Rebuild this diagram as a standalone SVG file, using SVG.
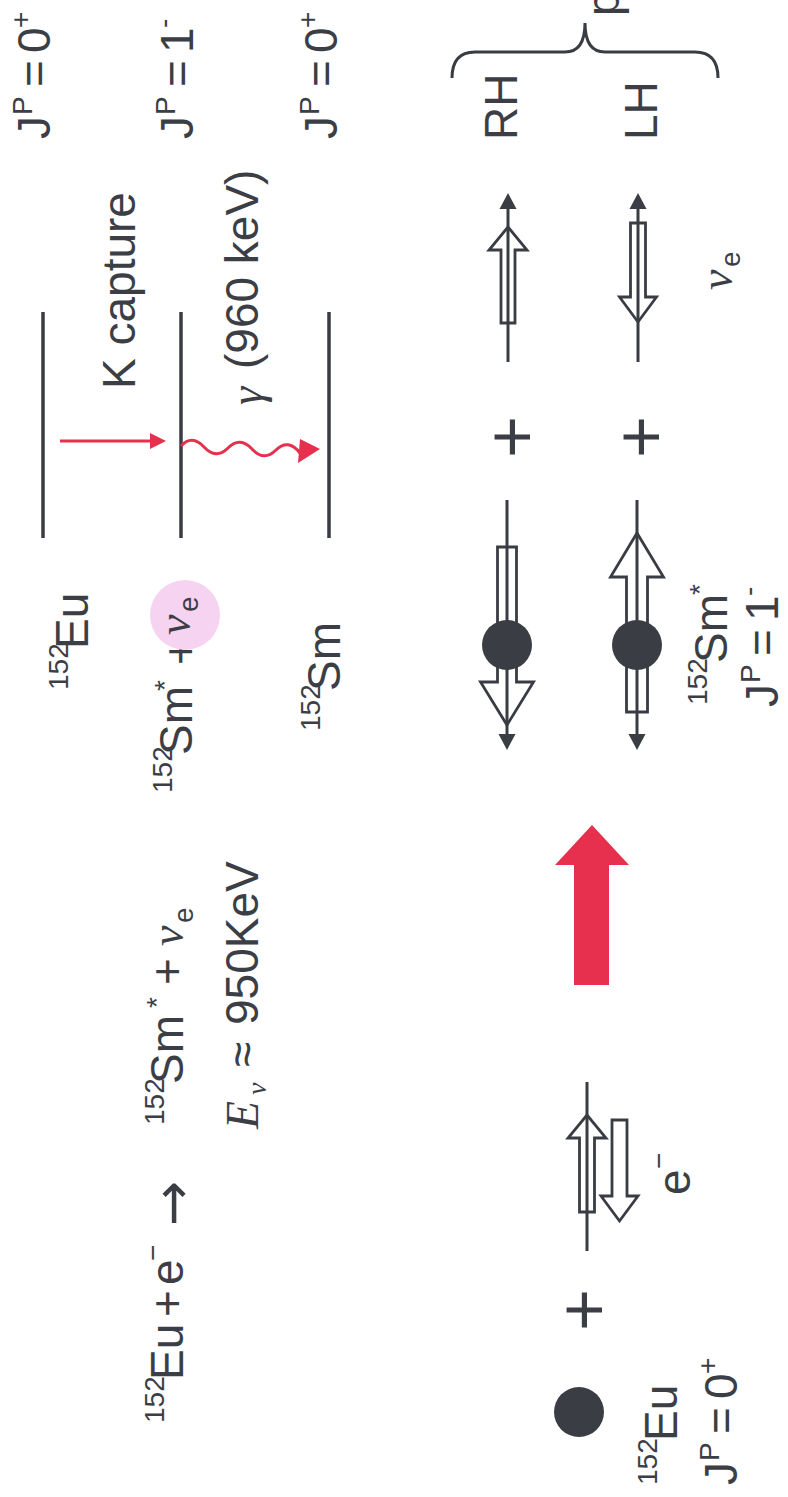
<svg xmlns="http://www.w3.org/2000/svg" width="788" height="1497" viewBox="0 0 788 1497">
<style>
.t{font-family:"Liberation Sans",Arial,sans-serif;font-size:46px;fill:#3c3e46}
.s{font-family:"Liberation Sans",Arial,sans-serif;font-size:28px;fill:#3c3e46}
.g{font-family:"Liberation Serif","Times New Roman",serif;font-style:italic;font-size:46px;fill:#3c3e46}
.gs{font-family:"Liberation Serif","Times New Roman",serif;font-style:italic;font-size:28px;fill:#3c3e46}
.big{font-family:"Liberation Sans",Arial,sans-serif;font-size:72px;fill:#3c3e46}
.lvl{stroke:#3a3c44;stroke-width:3.5;fill:none}
.ln{stroke:#3a3c44;stroke-width:3;fill:none}
.hol{fill:#fff;stroke:#3a3c44;stroke-width:2.8;stroke-linejoin:miter}
.dk{fill:#3b3d44}
.red{fill:#e6304d}
.redl{stroke:#e6304d;stroke-width:3;fill:none}
</style>
<rect width="788" height="1497" fill="#fff"/>
<g transform="matrix(0 -1 1 0 0 1497)">
  <g id="equation">
    <text class="s" x="74" y="164">152</text>
    <text class="t" x="117" y="183">Eu</text>
    <text class="t" x="180" y="183">+</text>
    <text class="t" x="212" y="183">e</text>
    <text class="s" x="236" y="162">−</text>
    <text x="271" y="191" font-family="DejaVu Sans, sans-serif" font-size="54" fill="#3c3e46">→</text>
    <text class="s" x="372" y="164">152</text>
    <text class="t" x="413" y="183">Sm</text>
    <text class="s" x="489" y="166">*</text>
    <text class="t" x="512" y="183">+</text>
    <text class="g" x="551" y="183">ν</text>
    <text class="s" x="574" y="193">e</text>
  </g>
  <g id="energy">
    <text class="g" x="368" y="258" font-size="50">E</text>
    <text class="gs" x="402" y="266" font-size="24">ν</text>
    <text class="t" x="430" y="258" font-size="50">≈</text>
    <text class="t" x="472" y="258">950KeV</text>
  </g>
  <g id="level-eu">
    <line class="lvl" x1="959" y1="43" x2="1185" y2="43"/>
    <text class="s" x="807" y="68">152</text>
    <text class="t" x="848" y="88">Eu</text>
    <text class="t" x="1358" y="50">J</text><text class="s" x="1382" y="32">P</text><text class="t" x="1410" y="50">=</text><text class="t" x="1444" y="50">0</text><text class="s" x="1469" y="30">+</text>
  </g>
  <g id="level-smstar">
    <line class="lvl" x1="959" y1="181" x2="1185" y2="181"/>
    <text class="s" x="704" y="172">152</text>
    <text class="t" x="742" y="192">Sm</text>
    <text class="s" x="806" y="174">*</text>
    <text class="t" x="832" y="196" font-size="40">+</text>
    <circle cx="882" cy="185" r="35" fill="#f6d4f1"/>
    <text class="g" x="862" y="190" font-size="44">ν</text>
    <text class="s" x="885" y="198">e</text>
    <text class="t" x="1358" y="193">J</text><text class="s" x="1382" y="175">P</text><text class="t" x="1410" y="193">=</text><text class="t" x="1444" y="193">1</text><text class="s" x="1469" y="173">-</text>
  </g>
  <g id="level-sm">
    <line class="lvl" x1="959" y1="329" x2="1185" y2="329"/>
    <text class="s" x="766" y="320">152</text>
    <text class="t" x="806" y="340">Sm</text>
    <text class="t" x="1358" y="337">J</text><text class="s" x="1382" y="319">P</text><text class="t" x="1410" y="337">=</text><text class="t" x="1444" y="337">0</text><text class="s" x="1469" y="317">+</text>
  </g>
  <g id="k-capture"><text class="t" x="1108" y="135">K capture</text></g>
  <g id="gamma-label">
    <text class="g" x="1092" y="262" font-size="42">γ</text>
    <text class="t" x="1128" y="258" font-size="42">(960 keV)</text>
  </g>
  <g id="connectors">
    <line class="redl" x1="1056" y1="60" x2="1056" y2="152"/>
    <polygon class="red" points="1056,166 1048,150 1064,150"/>
    <path class="redl" d="M1051,181 Q1063,192 1050,204 Q1037,216 1049,228 Q1061,240 1048,252 Q1035,264 1047,276 Q1059,288 1044,300"/>
    <polygon class="red" points="1048,320 1034,298 1058,300"/>
  </g>
  <g id="eu-atom">
    <circle class="dk" cx="85" cy="579" r="25"/>
    <text class="s" x="12" y="657">152</text>
    <text class="t" x="56" y="677">Eu</text>
    <text class="t" x="12" y="737">J</text><text class="s" x="36" y="719">P</text><text class="t" x="63" y="737">=</text><text class="t" x="98" y="737">0</text><text class="s" x="123" y="717">+</text>
  </g>
  <text class="big" x="166" y="608">+</text>
  <g id="electron">
    <polygon class="hol" points="285,579.5 359,579.5 359,568 382,587 359,606 359,594.5 285,594.5"/>
    <line class="ln" x1="246" y1="587" x2="415" y2="587"/>
    <polygon class="hol" points="377,612 301,612 301,601 276,619.5 301,638 301,627 377,627"/>
    <text class="t" x="302" y="690">e</text>
    <text class="s" x="328" y="668">−</text>
  </g>
  <g id="red-arrow">
    <polygon class="red" points="512,574 632,574 632,555 672,592 632,629 632,609 512,609"/>
  </g>
  <g id="smstar-row1">
    <polygon class="hol" points="950,497.5 815,497.5 815,480.5 772,507 815,533.5 815,516.5 950,516.5"/>
    <line class="ln" x1="997" y1="507" x2="760" y2="507"/>
    <polygon class="dk" points="747,507 763,498.5 763,515.5"/>
    <circle class="dk" cx="852" cy="507" r="25"/>
  </g>
  <g id="smstar-row2">
    <polygon class="hol" points="785,626.5 920,626.5 920,610.5 964,637 920,663.5 920,647.5 785,647.5"/>
    <line class="ln" x1="997" y1="637" x2="760" y2="637"/>
    <polygon class="dk" points="747,637 763,628.5 763,645.5"/>
    <circle class="dk" cx="852" cy="637" r="25"/>
    <text class="s" x="792" y="707">152</text>
    <text class="t" x="834" y="727">Sm</text>
    <text class="s" x="902" y="709">*</text>
    <text class="t" x="790" y="778">J</text><text class="s" x="814" y="760">P</text><text class="t" x="841" y="778">=</text><text class="t" x="876" y="778">1</text><text class="s" x="901" y="758">-</text>
  </g>
  <text class="big" x="1039" y="536">+</text>
  <text class="big" x="1039" y="665">+</text>
  <g id="nu-rh">
    <polygon class="hol" points="1174,501 1247,501 1247,489 1270,508 1247,527 1247,515 1174,515"/>
    <line class="ln" x1="1135" y1="508" x2="1292" y2="508"/>
    <polygon class="dk" points="1304,508 1288,499.5 1288,516.5"/>
    <text class="t" x="1357" y="517" font-size="48">RH</text>
  </g>
  <g id="nu-lh">
    <polygon class="hol" points="1274,630.5 1200,630.5 1200,619.5 1175,638 1200,656.5 1200,645.5 1274,645.5"/>
    <line class="ln" x1="1135" y1="638" x2="1292" y2="638"/>
    <polygon class="dk" points="1304,638 1288,629.5 1288,646.5"/>
    <text class="t" x="1357" y="657" font-size="48">LH</text>
    <text class="g" x="1207" y="732" font-size="44">ν</text>
    <text class="s" x="1230" y="740">e</text>
  </g>
  <g id="brace">
    <path class="ln" stroke-width="2.5" d="M1419,452 Q1445,452 1445,475 L1445,565 Q1445,585 1474,585 Q1445,585 1445,605 L1445,695 Q1445,718 1419,718"/>
    <text class="t" x="1481" y="619">p</text>
  </g>
</g>
</svg>
